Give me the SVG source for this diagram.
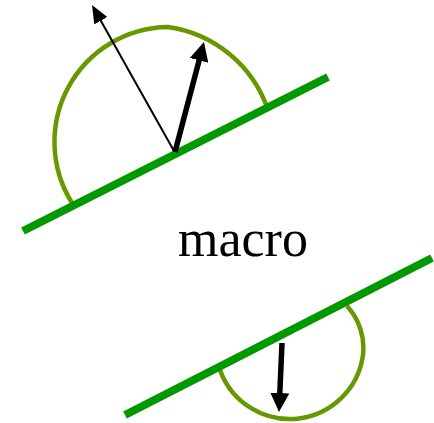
<svg xmlns="http://www.w3.org/2000/svg" width="434" height="423" viewBox="0 0 434 423">
<style>
.surface{stroke:#009900;stroke-width:8;fill:none}
.hemi{stroke:#669900;stroke-width:4.5;fill:none}
.thin{stroke:#000;stroke-width:2;fill:none}
.thick{stroke:#000;stroke-width:5.5;fill:none}
.label{font-family:"Liberation Serif","Times New Roman",serif;font-size:52px;fill:#000}
</style>
<defs>
<marker id="headThin" markerUnits="userSpaceOnUse" viewBox="0 0 18 15" markerWidth="18" markerHeight="15" refX="8" refY="7.5" orient="auto">
<polygon points="0,0 18,7.5 0,15" fill="#000"/>
</marker>
<marker id="headThick" markerUnits="userSpaceOnUse" viewBox="0 0 19 19" markerWidth="19" markerHeight="19" refX="7" refY="9.5" orient="auto">
<polygon points="0,0 19,9.5 0,19" fill="#000"/>
</marker>
</defs>
<g id="top-surface">
<path class="hemi" d="M72,203 A115,115 0 0 1 168,27 A124,124 0 0 1 268,110"/>
<line class="surface" x1="23" y1="231" x2="328" y2="77"/>
</g>
<g id="bottom-surface">
<path class="hemi" d="M220,370 A74,74 0 0 0 363,355 A62,62 0 0 0 347,306"/>
<line class="surface" x1="125" y1="415" x2="432" y2="258"/>
</g>
<g id="label">
<text class="label" x="178" y="256">macro</text>
</g>
<g id="connectors">
<line class="thin" x1="174" y1="151" x2="96.9" y2="13.7" marker-end="url(#headThin)"/>
<line class="thick" x1="175" y1="152" x2="200.9" y2="53.6" marker-end="url(#headThick)"/>
<line class="thick" x1="282" y1="343" x2="279.5" y2="400" marker-end="url(#headThick)"/>
</g>
</svg>
